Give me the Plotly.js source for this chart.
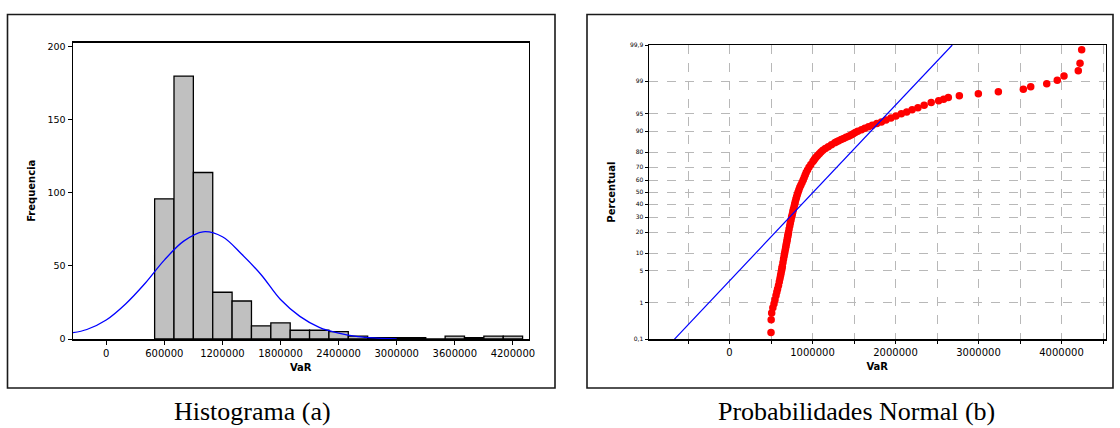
<!DOCTYPE html>
<html>
<head>
<meta charset="utf-8">
<script src="https://cdn.plot.ly/plotly-3.0.1.min.js"></script>
<style>
html,body{margin:0;padding:0;background:#ffffff;}
#chart{width:1120px;height:428px;}
</style>
</head>
<body>
<div id="chart"></div>
<script>
// ---------- Histograma (a) ----------
const binCenters = [600000, 800000, 1000000, 1200000, 1400000, 1600000, 1800000, 2000000, 2200000,
                    2400000, 2600000, 2800000, 3000000, 3200000, 3400000, 3600000, 3800000, 4000000, 4200000];
const binCounts  = [96, 180, 114, 32, 26, 9, 11, 6, 6, 5, 2, 1, 1, 1, 0, 2, 1, 2, 2];
const binWidth = 200000;

// fitted normal curve
const curveVaR  = [-343000, -200000, 0, 200000, 400000, 600000, 800000, 1000000, 1200000, 1400000,
                   1600000, 1800000, 2000000, 2200000, 2400000, 2600000, 2800000, 3000000];
const curveFreq = [4.3, 6.5, 13, 24, 38, 54, 67, 73.4, 70, 58, 44, 27, 15.5, 8, 4, 1.6, 0.6, 0.1];

const histXTicks = [0, 600000, 1200000, 1800000, 2400000, 3000000, 3600000, 4200000];
const histYTicks = [0, 50, 100, 150, 200];

// ---------- Probabilidades Normal (b) ----------
const probPct = [0.16, 0.37, 0.56, 0.76, 0.96, 1.2, 1.5, 1.8, 2.1, 2.5, 3.0, 3.5, 4.0, 4.5, 5.0, 5.5, 6.0,
  7, 8, 9, 10, 11, 12, 13, 14, 15, 16, 17, 18, 19, 20, 22, 24, 26, 28, 30, 32, 34, 36, 38, 40, 42, 44, 46,
  48, 50, 52, 54, 56, 58, 60, 62, 64, 66, 68, 70, 72, 74, 75, 76, 77, 78, 79, 80, 81, 82, 83, 84, 85,
  85.5, 86, 86.5, 87, 87.5, 88, 88.5, 89, 89.5, 90, 90.5, 91, 91.5, 92, 92.5, 93, 93.5, 94, 94.5, 95,
  95.4, 95.8, 96.2, 96.6, 97, 97.26, 97.46, 97.66, 97.86, 98.06, 98.26, 98.46, 98.66, 98.86, 99.06,
  99.26, 99.46, 99.66, 99.86];
const probVaR = [500000, 502000, 508000, 522000, 536000, 548000, 560000, 570000, 579000, 590000, 600000,
  608000, 615000, 621000, 627000, 632000, 636000, 644000, 651000, 658000, 664000, 670000, 676000, 681000,
  686000, 691000, 695000, 699000, 703000, 707000, 711000, 718000, 726000, 733000, 741000, 748000, 756000,
  763000, 770000, 778000, 785000, 792000, 800000, 808000, 817000, 826000, 836000, 847000, 860000, 874000,
  888000, 900000, 912000, 924000, 940000, 958000, 980000, 1005000, 1018000, 1030000, 1045000, 1062000,
  1082000, 1102000, 1125000, 1155000, 1190000, 1228000, 1268000, 1290000, 1315000, 1345000, 1375000,
  1405000, 1435000, 1465000, 1490000, 1515000, 1545000, 1590000, 1630000, 1675000, 1720000, 1775000,
  1830000, 1885000, 1945000, 2005000, 2070000, 2135000, 2200000, 2270000, 2345000, 2430000, 2520000,
  2580000, 2636000, 2769000, 2998000, 3239000, 3540000, 3629000, 3822000, 3949000, 4030000, 4202000,
  4223000, 4243000];

// fitted normal reference line (two end points)
const fitVaR = [-665000, 2684000];
const fitPct = [0.1, 99.9];

const pctTicks    = [0.1, 1, 5, 10, 20, 30, 40, 50, 60, 70, 80, 90, 95, 99, 99.9];
const pctTickText = ["0,1", "1", "5", "10", "20", "30", "40", "50", "60", "70", "80", "90", "95", "99", "99,9"];
const probXGrid   = [-500000, 0, 500000, 1000000, 1500000, 2000000, 2500000, 3000000, 3500000, 4000000, 4500000];

// inverse standard normal CDF (normal probability paper scale)
function probit(p) {
  const a = [-3.969683028665376e+01, 2.209460984245205e+02, -2.759285104469687e+02, 1.383577518672690e+02, -3.066479806614716e+01, 2.506628277459239e+00];
  const b = [-5.447609879822406e+01, 1.615858368580409e+02, -1.556989798598866e+02, 6.680131188771972e+01, -1.328068155288572e+01];
  const c = [-7.784894002430293e-03, -3.223964580411365e-01, -2.400758277161838e+00, -2.549732539343734e+00, 4.374664141464968e+00, 2.938163982698783e+00];
  const d = [7.784695709041462e-03, 3.224671290700398e-01, 2.445134137142996e+00, 3.754408661907416e+00];
  const pl = 0.02425, ph = 1 - pl;
  let q, r;
  if (p < pl) {
    q = Math.sqrt(-2 * Math.log(p));
    return (((((c[0]*q+c[1])*q+c[2])*q+c[3])*q+c[4])*q+c[5]) / ((((d[0]*q+d[1])*q+d[2])*q+d[3])*q+1);
  } else if (p <= ph) {
    q = p - 0.5; r = q * q;
    return (((((a[0]*r+a[1])*r+a[2])*r+a[3])*r+a[4])*r+a[5])*q / (((((b[0]*r+b[1])*r+b[2])*r+b[3])*r+b[4])*r+1);
  } else {
    q = Math.sqrt(-2 * Math.log(1 - p));
    return -(((((c[0]*q+c[1])*q+c[2])*q+c[3])*q+c[4])*q+c[5]) / ((((d[0]*q+d[1])*q+d[2])*q+d[3])*q+1);
  }
}
const z = pcts => pcts.map(p => probit(p / 100));

const W = 1120, H = 428;
const px = v => v / W;
const py = v => 1 - v / H;

const tickFont = {family: 'DejaVu Sans, Verdana, sans-serif', size: 10, color: '#000'};
const titleFont = {family: 'DejaVu Sans, Verdana, sans-serif', size: 10, color: '#000', weight: 'bold'};

const traces = [
  {
    type: 'bar', x: binCenters, y: binCounts, width: binWidth,
    marker: {color: '#c0c0c0', line: {color: '#000', width: 1.3}},
    xaxis: 'x', yaxis: 'y', hoverinfo: 'skip'
  },
  {
    type: 'scatter', mode: 'lines', x: curveVaR, y: curveFreq,
    line: {color: '#0000ff', width: 1.3, shape: 'spline', smoothing: 1},
    xaxis: 'x', yaxis: 'y', hoverinfo: 'skip'
  },
  {
    type: 'scatter', mode: 'markers', x: probVaR, y: z(probPct),
    marker: {color: '#ff0000', size: 7.5, symbol: 'circle', line: {width: 0}},
    xaxis: 'x2', yaxis: 'y2', hoverinfo: 'skip'
  },
  {
    type: 'scatter', mode: 'lines', x: fitVaR, y: z(fitPct),
    line: {color: '#0000ff', width: 1.2},
    xaxis: 'x2', yaxis: 'y2', hoverinfo: 'skip'
  }
];

const axisBase = {
  showline: true, linecolor: '#000', linewidth: 1.5, mirror: true,
  zeroline: false, ticks: 'outside', ticklen: 4, tickcolor: '#000', tickwidth: 1,
  tickfont: tickFont, fixedrange: true
};

const layout = {
  width: W, height: H,
  margin: {l: 0, r: 0, t: 0, b: 0},
  paper_bgcolor: '#ffffff', plot_bgcolor: '#ffffff',
  showlegend: false, bargap: 0,
  xaxis: Object.assign({}, axisBase, {
    domain: [px(73), px(528.5)], range: [-343000, 4361000], anchor: 'y',
    tickmode: 'array', tickvals: histXTicks, ticktext: histXTicks.map(String),
    showgrid: false,
    title: {text: 'VaR', font: titleFont, standoff: 6}
  }),
  yaxis: Object.assign({}, axisBase, {
    domain: [py(339), py(42.5)], range: [0, 203], anchor: 'x',
    tickmode: 'array', tickvals: histYTicks, ticktext: histYTicks.map(String),
    tickfont: Object.assign({}, tickFont, {size: 9.5}),
    showgrid: false,
    title: {text: 'Frequencia', font: titleFont, standoff: 10}
  }),
  xaxis2: Object.assign({}, axisBase, {
    domain: [px(649), px(1105.5)], range: [-970000, 4530000], anchor: 'y2',
    tickmode: 'array', tickvals: probXGrid,
    ticktext: probXGrid.map(v => (v % 1000000 === 0 ? String(v) : '')),
    ticklen: 3,
    showgrid: true, gridcolor: '#b8b8b8', griddash: 'dash', gridwidth: 1,
    title: {text: 'VaR', font: titleFont, standoff: 6}
  }),
  yaxis2: Object.assign({}, axisBase, {
    domain: [py(339.3), py(45)], range: [probit(0.001), probit(0.999)], anchor: 'x2',
    tickmode: 'array', tickvals: z(pctTicks), ticktext: pctTickText,
    ticklen: 3,
    tickfont: Object.assign({}, tickFont, {size: 6}),
    showgrid: true, gridcolor: '#b8b8b8', griddash: 'dash', gridwidth: 1,
    title: {text: 'Percentual', font: titleFont, standoff: 12}
  }),
  shapes: [
    {type: 'rect', xref: 'paper', yref: 'paper', x0: px(7.5), x1: px(555), y0: py(388), y1: py(14.5),
     line: {color: '#1a1a1a', width: 1.6}, fillcolor: 'rgba(0,0,0,0)', layer: 'below'},
    {type: 'rect', xref: 'paper', yref: 'paper', x0: px(587), x1: px(1113), y0: py(388), y1: py(14.5),
     line: {color: '#1a1a1a', width: 1.6}, fillcolor: 'rgba(0,0,0,0)', layer: 'below'}
  ],
  annotations: [
    {xref: 'paper', yref: 'paper', x: px(252), y: py(411), text: 'Histograma (a)', showarrow: false,
     xanchor: 'center', yanchor: 'middle',
     font: {family: 'Liberation Serif, Times New Roman, serif', size: 26, color: '#000'}},
    {xref: 'paper', yref: 'paper', x: px(856), y: py(411), text: 'Probabilidades Normal (b)', showarrow: false,
     xanchor: 'center', yanchor: 'middle',
     font: {family: 'Liberation Serif, Times New Roman, serif', size: 26, color: '#000'}}
  ]
};

Plotly.newPlot('chart', traces, layout, {staticPlot: true, displayModeBar: false});
</script>
</body>
</html>
